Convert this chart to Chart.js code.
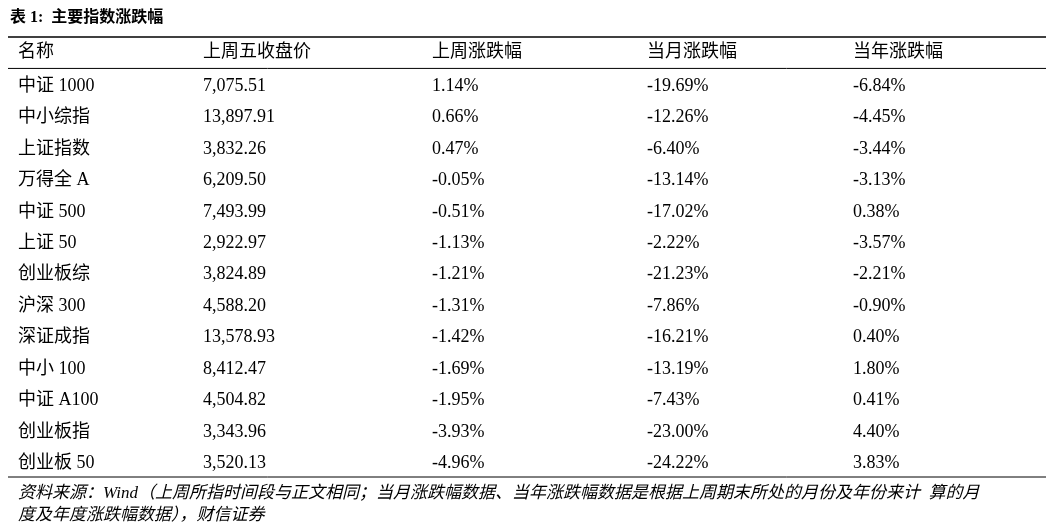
<!DOCTYPE html>
<html>
<head>
<meta charset="utf-8">
<script src="https://cdn.jsdelivr.net/npm/chart.js@4/dist/chart.umd.min.js"></script>
<style>
  body { margin: 0; background: #fff; }
</style>
</head>
<body>
<canvas id="tableChart" width="1053" height="530"></canvas>
<script>
const title = '表 1:  主要指数涨跌幅';
const headers = ['名称', '上周五收盘价', '上周涨跌幅', '当月涨跌幅', '当年涨跌幅'];
const names = ['中证 1000', '中小综指', '上证指数', '万得全 A', '中证 500', '上证 50', '创业板综', '沪深 300', '深证成指', '中小 100', '中证 A100', '创业板指', '创业板 50'];
const closePrice = ['7,075.51', '13,897.91', '3,832.26', '6,209.50', '7,493.99', '2,922.97', '3,824.89', '4,588.20', '13,578.93', '8,412.47', '4,504.82', '3,343.96', '3,520.13'];
const weekChange = ['1.14%', '0.66%', '0.47%', '-0.05%', '-0.51%', '-1.13%', '-1.21%', '-1.31%', '-1.42%', '-1.69%', '-1.95%', '-3.93%', '-4.96%'];
const monthChange = ['-19.69%', '-12.26%', '-6.40%', '-13.14%', '-17.02%', '-2.22%', '-21.23%', '-7.86%', '-16.21%', '-13.19%', '-7.43%', '-23.00%', '-24.22%'];
const yearChange = ['-6.84%', '-4.45%', '-3.44%', '-3.13%', '0.38%', '-3.57%', '-2.21%', '-0.90%', '0.40%', '1.80%', '0.41%', '4.40%', '3.83%'];
const footLines = ['资料来源：Wind（上周所指时间段与正文相同；当月涨跌幅数据、当年涨跌幅数据是根据上周期末所处的月份及年份来计  算的月',
                   '度及年度涨跌幅数据），财信证券'];

// column left edges (layout only)
const colX = [18, 203, 432, 647, 853];

const rowLabels = ['header', ...names];
const columns = [names, closePrice, weekChange, monthChange, yearChange];

const cells = [];
headers.forEach((h, c) => cells.push({x: colX[c], y: 'header', text: h}));
columns.forEach((col, c) => {
    col.forEach((v, r) => cells.push({x: colX[c], y: names[r], text: v}));
});

const FONT = '"Liberation Serif", "Noto Sans CJK SC", serif';

const tablePlugin = {
    id: 'tableText',
    afterDatasetsDraw(chart) {
        const ctx = chart.ctx;
        const area = chart.chartArea;
        const yScale = chart.scales.y;
        const meta = chart.getDatasetMeta(0);
        ctx.save();
        ctx.fillStyle = '#000';
        ctx.textBaseline = 'middle';
        ctx.textAlign = 'left';
        ctx.font = '18px ' + FONT;
        meta.data.forEach((pt, i) => {
            const dy = i < headers.length ? 0 : 2;
            ctx.fillText(cells[i].text, pt.x, pt.y + dy);
        });

        // rules
        ctx.strokeStyle = '#000';
        ctx.lineWidth = 1.5;
        ctx.beginPath();
        ctx.moveTo(area.left, area.top); ctx.lineTo(area.right, area.top);
        ctx.stroke();
        const sep = (yScale.getPixelForValue(0) + yScale.getPixelForValue(1)) / 2;
        ctx.lineWidth = 1;
        ctx.beginPath();
        ctx.moveTo(area.left, sep); ctx.lineTo(area.right, sep);
        ctx.moveTo(area.left, area.bottom); ctx.lineTo(area.right, area.bottom);
        ctx.stroke();

        // title
        ctx.font = 'bold 16px ' + FONT;
        ctx.fillText(title, 10, 18);

        // source note
        ctx.font = 'italic 17px ' + FONT;
        ctx.fillText(footLines[0], 18, 494);
        ctx.fillText(footLines[1], 18, 516);
        ctx.restore();
    }
};

new Chart(document.getElementById('tableChart'), {
    type: 'scatter',
    data: {
        datasets: [{
            data: cells.map(c => ({x: c.x, y: c.y})),
            pointRadius: 0,
            pointHoverRadius: 0
        }]
    },
    options: {
        responsive: false,
        animation: false,
        events: [],
        layout: {padding: {top: 37, bottom: 53, left: 8, right: 7}},
        plugins: {legend: {display: false}, tooltip: {enabled: false}},
        scales: {
            x: {type: 'linear', min: 8, max: 1046, display: false},
            y: {type: 'category', labels: rowLabels, offset: true, display: false}
        }
    },
    plugins: [tablePlugin]
});
</script>
</body>
</html>
